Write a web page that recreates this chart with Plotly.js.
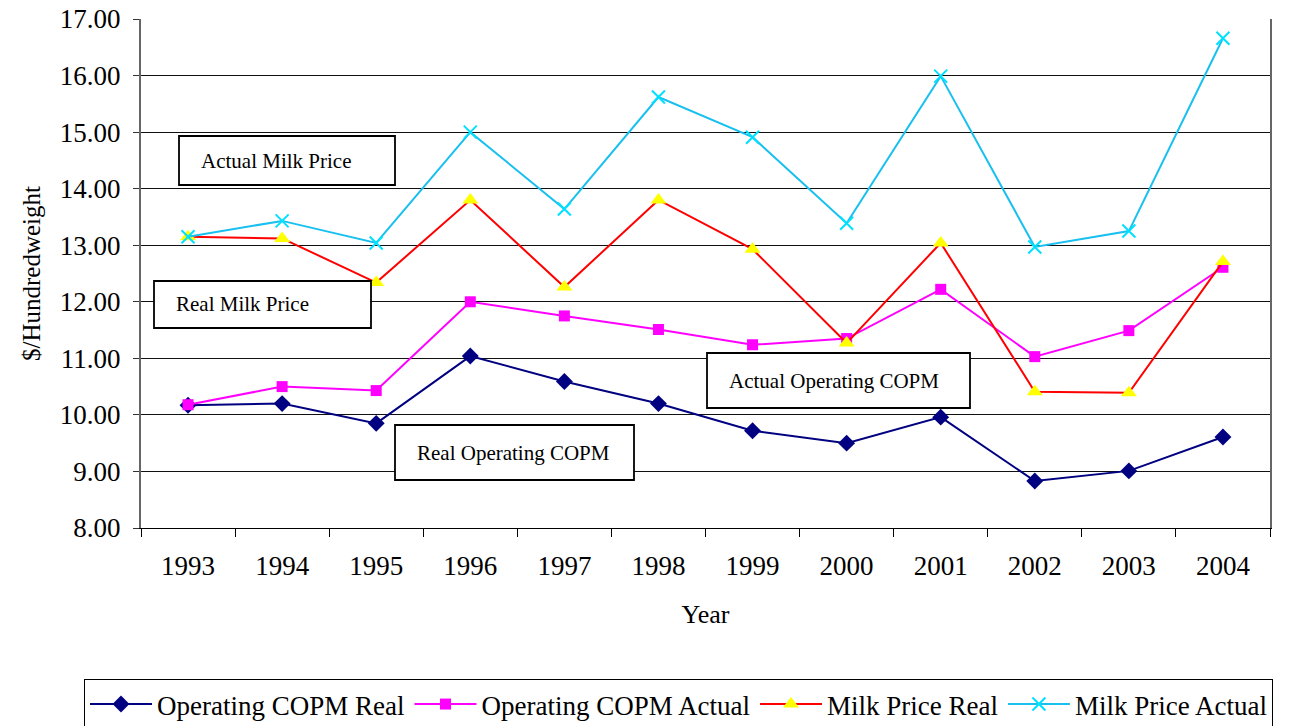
<!DOCTYPE html>
<html>
<head>
<meta charset="utf-8">
<script src="https://cdn.plot.ly/plotly-3.0.1.min.js"></script>
<style>html,body{margin:0;padding:0;background:#fff;}#chart{width:1291px;height:726px;}</style>
</head>
<body>
<div id="chart"></div>
<script>
const years = ['1993','1994','1995','1996','1997','1998','1999','2000','2001','2002','2003','2004'];
const copmReal   = [10.17,10.20,9.85,11.04,10.59,10.20,9.72,9.50,9.96,8.83,9.01,9.61];
const copmActual = [10.18,10.50,10.43,12.00,11.75,11.51,11.24,11.35,12.22,11.03,11.49,12.61];
const milkReal   = [13.15,13.12,12.34,13.80,12.26,13.80,12.93,11.27,13.04,10.41,10.39,12.71];
const milkActual = [13.15,13.43,13.04,15.00,13.64,15.62,14.91,13.39,15.99,12.97,13.25,16.66];
const seriesNames = ['Operating COPM Real','Operating COPM Actual','Milk Price Real','Milk Price Actual'];
const boxLabels = ['Actual Milk Price','Real Milk Price','Actual Operating COPM','Real Operating COPM'];

const font = 'Liberation Serif, Times New Roman, serif';

const traces = [
  {x: years, y: copmReal, name: seriesNames[0], mode: 'lines+markers',
   line: {color: '#000080', width: 2}, marker: {symbol: 'diamond', size: 13, color: '#000080'}},
  {x: years, y: copmActual, name: seriesNames[1], mode: 'lines+markers',
   line: {color: '#FF00FF', width: 2}, marker: {symbol: 'square', size: 11, color: '#FF00FF'}},
  {x: years, y: milkReal, name: seriesNames[2], mode: 'lines+markers',
   line: {color: '#FF0000', width: 2}, marker: {symbol: 'triangle-up', size: 14, color: '#FFFF00'}},
  {x: years, y: milkActual, name: seriesNames[3], mode: 'lines+markers',
   line: {color: '#18C0F0', width: 2}, marker: {symbol: 'x-thin', size: 13, color: '#00E0FF', line: {color: '#00E0FF', width: 2}}}
];

const L = 141, T = 19, PW = 1129, PH = 509;
function px(x){return (x - L)/PW;}
function py(y){return (T + PH - y)/PH;}

// label boxes: [left, top, right, bottom] in pixels
const boxes = [[179,136,395,185],[154,281,371,328],[707,353,970,408],[395,425,634,480]];
const shapes = boxes.map(b => ({type: 'rect', xref: 'paper', yref: 'paper',
  x0: px(b[0]), x1: px(b[2]), y0: py(b[3]), y1: py(b[1]),
  line: {color: '#000', width: 1.8}, fillcolor: '#fff', layer: 'above'}));
const annotations = boxes.map((b, i) => ({text: boxLabels[i], xref: 'paper', yref: 'paper',
  x: px(b[0] + 20), y: py((b[1] + b[3]) / 2), xanchor: 'left', yanchor: 'middle', showarrow: false,
  font: {family: font, size: 21, color: '#000'}}));

const layout = {
  width: 1291, height: 726,
  margin: {l: L, r: 1291 - L - PW, t: T, b: 726 - T - PH, autoexpand: false},
  paper_bgcolor: '#fff', plot_bgcolor: '#fff',
  font: {family: font, color: '#000', size: 27},
  showlegend: true,
  legend: {orientation: 'h', x: px(84), y: py(679), xanchor: 'left', yanchor: 'top',
    bordercolor: '#000', borderwidth: 1, font: {family: font, size: 27, color: '#000'},
    itemwidth: 62},
  xaxis: {type: 'category', range: [-0.5, years.length - 0.5], automargin: false, showgrid: false,
    showline: true, linecolor: '#000', linewidth: 1,
    ticks: 'outside', tickson: 'boundaries', ticklen: 8, tickcolor: '#000', ticklabelstandoff: 14,
    tickfont: {family: font, size: 27}, title: {text: 'Year', font: {family: font, size: 26}, standoff: 24}},
  yaxis: {range: [8, 17], dtick: 1, tickformat: '.2f', automargin: false, showgrid: true, gridcolor: '#111', gridwidth: 1,
    showline: true, linecolor: '#666', linewidth: 2, mirror: true, ticks: 'outside', ticklen: 6, tickcolor: '#333',
    ticklabelstandoff: 7,
    tickfont: {family: font, size: 27}, zeroline: false,
    title: {text: '$/Hundredweight', font: {family: font, size: 25}, standoff: 12}},
  shapes: shapes,
  annotations: annotations
};

Plotly.newPlot('chart', traces, layout, {displayModeBar: false, staticPlot: true});
</script>
</body>
</html>
